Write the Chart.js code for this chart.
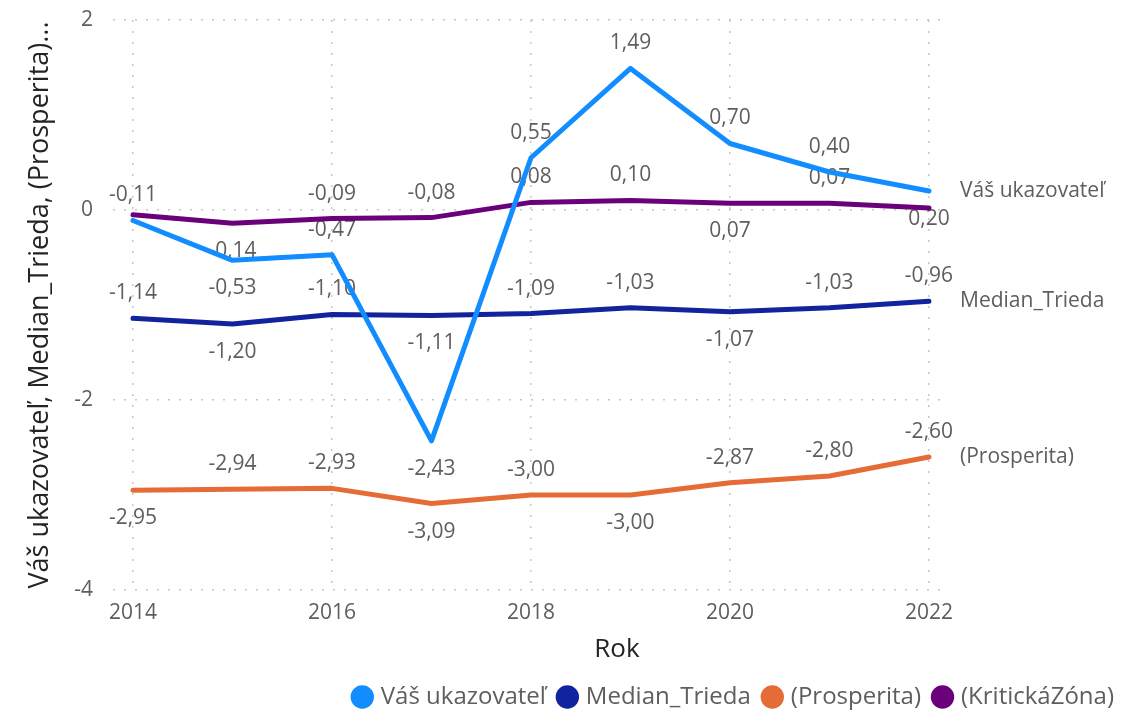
<!DOCTYPE html>
<html>
<head>
<meta charset="utf-8">
<script src="https://cdn.jsdelivr.net/npm/chart.js"></script>
<style>
  html, body { margin: 0; padding: 0; background: #fff; }
  #wrap { width: 1129px; height: 723px; position: relative; }
</style>
</head>
<body>
<div id="wrap"><canvas id="lineChart"></canvas></div>
<script>
// data
const years = [2014, 2015, 2016, 2017, 2018, 2019, 2020, 2021, 2022];
const vasUkazovatel = [-0.11, -0.53, -0.47, -2.43, 0.55, 1.49, 0.70, 0.40, 0.20];
const medianTrieda = [-1.14, -1.20, -1.10, -1.11, -1.09, -1.03, -1.07, -1.03, -0.96];
const prosperita = [-2.95, -2.94, -2.93, -3.09, -3.00, -3.00, -2.87, -2.80, -2.60];
const kritickaZona = [-0.05, -0.14, -0.09, -0.08, 0.08, 0.10, 0.07, 0.07, 0.02];
const yearTicks = [2014, 2016, 2018, 2020, 2022];

// where each data label sits: a = above, b = below, '' = hidden
const vasSide = ['a', 'b', 'a', 'b', 'a', 'a', 'a', 'a', 'b'];
const medianSide = ['a', 'b', 'a', 'b', 'a', 'a', 'b', 'a', 'a'];
const prospSide = ['b', 'a', 'a', 'b', 'a', 'b', 'a', 'a', 'a'];
const kritSide = ['', 'b', 'a', 'a', 'a', 'a', 'b', 'a', ''];

const FONT = "'Open Sans', 'Noto Sans', sans-serif";
const GREY = '#605E5C';
const DARK = '#252423';
const GRID = '#C8C6C4';

Chart.defaults.font.family = FONT;

const fmt = v => v.toFixed(2).replace('.', ',');

const series = [
  { label: 'Váš ukazovateľ', data: vasUkazovatel, color: '#118DFF', side: vasSide, endLabel: true },
  { label: 'Median_Trieda', data: medianTrieda, color: '#12239E', side: medianSide, endLabel: true },
  { label: '(Prosperita)', data: prosperita, color: '#E66C37', side: prospSide, endLabel: true },
  { label: '(KritickáZóna)', data: kritickaZona, color: '#6B007B', side: kritSide, endLabel: false }
];

// value labels go under the lines, series names + x title on top
const labelsPlugin = {
  id: 'pbiLabels',
  beforeDatasetsDraw(chart) {
    const ctx = chart.ctx;
    ctx.save();
    ctx.font = '21px ' + FONT;
    ctx.fillStyle = GREY;
    ctx.textAlign = 'center';
    ctx.textBaseline = 'middle';
    chart.data.datasets.forEach((ds, i) => {
      const meta = chart.getDatasetMeta(i);
      meta.data.forEach((pt, j) => {
        const side = series[i].side[j];
        if (!side) return;
        const y = side === 'a' ? pt.y - 25 : pt.y + 28;
        ctx.fillText(fmt(ds.data[j].y), pt.x, y);
      });
    });
    ctx.restore();
  },
  afterDatasetsDraw(chart) {
    const ctx = chart.ctx;
    const area = chart.chartArea;
    ctx.save();
    ctx.font = '21px ' + FONT;
    ctx.fillStyle = GREY;
    ctx.textAlign = 'left';
    ctx.textBaseline = 'middle';
    chart.data.datasets.forEach((ds, i) => {
      if (!series[i].endLabel) return;
      const meta = chart.getDatasetMeta(i);
      const last = meta.data[meta.data.length - 1];
      ctx.fillText(ds.label, area.right + 17, last.y);
    });
    // x axis title sits centred over plot + end label zone
    ctx.font = '26px ' + FONT;
    ctx.fillStyle = DARK;
    ctx.textAlign = 'center';
    ctx.fillText('Rok', (area.left + chart.width - 8) / 2, 650);
    ctx.restore();
  }
};

const ctx = document.getElementById('lineChart');
new Chart(ctx, {
  type: 'line',
  data: {
    datasets: series.map(s => ({
      label: s.label,
      data: years.map((y, k) => ({ x: y, y: s.data[k] })),
      borderColor: s.color,
      backgroundColor: s.color,
      borderWidth: 5,
      borderCapStyle: 'round',
      borderJoinStyle: 'round',
      pointRadius: 0,
      pointHoverRadius: 0,
      tension: 0,
      fill: false
    }))
  },
  plugins: [labelsPlugin],
  options: {
    responsive: true,
    maintainAspectRatio: false,
    animation: false,
    layout: { padding: { top: 20, left: 0, right: 0, bottom: 4 } },
    plugins: {
      tooltip: { enabled: false },
      legend: {
        position: 'bottom',
        align: 'end',
        labels: {
          usePointStyle: true,
          pointStyle: 'circle',
          boxWidth: 13,
          boxHeight: 13,
          padding: 15,
          color: GREY,
          font: { size: 24, family: FONT }
        }
      }
    },
    scales: {
      x: {
        type: 'linear',
        min: 2013.799,
        max: 2022.141,
        afterBuildTicks: scale => {
          scale.ticks = yearTicks.map(v => ({ value: v }));
        },
        afterFit: scale => {
          scale.height = 80;
          scale.paddingLeft = 0;
          scale.paddingRight = 0;
        },
        ticks: {
          color: GREY,
          padding: 10,
          font: { size: 21 },
          maxRotation: 0,
          callback: v => String(v)
        },
        grid: { color: GRID, lineWidth: 1.5, drawTicks: false },
        border: { display: false, dash: [2, 9] }
      },
      y: {
        min: -4,
        max: 2,
        afterFit: scale => {
          scale.width = 113;
          scale.paddingTop = 0;
          scale.paddingBottom = 0;
        },
        ticks: {
          stepSize: 2,
          color: GREY,
          padding: 20,
          font: { size: 21 }
        },
        grid: { color: GRID, lineWidth: 1.5, drawTicks: false },
        border: { display: false, dash: [2, 9] },
        title: {
          display: true,
          text: 'Váš ukazovateľ, Median_Trieda, (Prosperita)...',
          color: DARK,
          font: { size: 27 },
          padding: { top: 24, bottom: 0 }
        }
      },
      // empty axis on the right keeps room for the series names
      yRight: {
        position: 'right',
        display: true,
        afterFit: scale => {
          scale.width = 186;
          scale.paddingTop = 0;
          scale.paddingBottom = 0;
        },
        ticks: { display: false },
        grid: { display: false, drawTicks: false },
        border: { display: false }
      }
    }
  }
});
</script>
</body>
</html>
